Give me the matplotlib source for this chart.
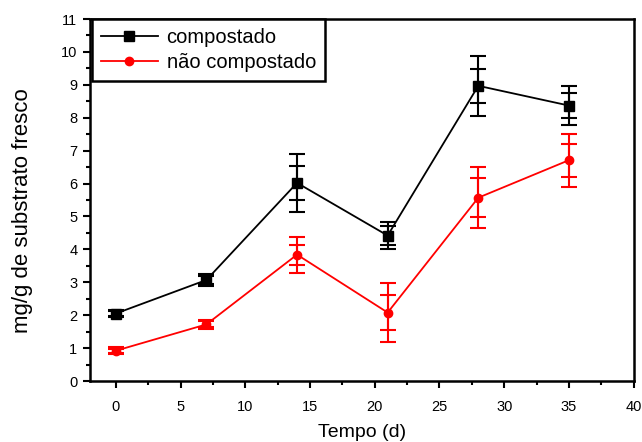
import matplotlib
matplotlib.use("Agg")
import matplotlib.pyplot as plt
from matplotlib.ticker import MultipleLocator

plt.rcParams['font.family'] = ['Liberation Sans', 'DejaVu Sans']

dias = [0, 7, 14, 21, 28, 35]

compostado = [2.05, 3.07, 6.02, 4.42, 8.97, 8.37]
compostado_err = [0.11, 0.18, 0.87, 0.42, 0.91, 0.60]
compostado_err_in = [0.07, 0.11, 0.52, 0.28, 0.52, 0.37]

nao_compostado = [0.92, 1.72, 3.84, 2.08, 5.57, 6.71]
nao_compostado_err = [0.10, 0.14, 0.55, 0.90, 0.93, 0.81]
nao_compostado_err_in = [0.06, 0.09, 0.30, 0.52, 0.60, 0.50]

fig = plt.figure(figsize=(6.42, 4.42), dpi=100)
ax = fig.add_axes([0.140, 0.138, 0.847, 0.819])

series = [
    (compostado, compostado_err, compostado_err_in, 'black', 's', 6.5, "compostado"),
    (nao_compostado, nao_compostado_err, nao_compostado_err_in, 'red', 'o', 6, "não compostado"),
]
for vals, err, err_in, cor, mk, ms, nome in series:
    ax.errorbar(dias, vals, yerr=err, fmt='none', ecolor=cor, elinewidth=1.5,
                capsize=6, capthick=1.5, zorder=2)
    ax.errorbar(dias, vals, yerr=err_in, fmt='none', ecolor=cor, elinewidth=1.5,
                capsize=6, capthick=1.5, zorder=2)
    ax.plot(dias, vals, color=cor, marker=mk, markersize=ms, linewidth=1.3,
            label=nome, zorder=3)

ax.set_xlim(-2, 40)
ax.set_ylim(0, 11)
ax.xaxis.set_major_locator(MultipleLocator(5))
ax.xaxis.set_minor_locator(MultipleLocator(2.5))
ax.yaxis.set_major_locator(MultipleLocator(1))
ax.yaxis.set_minor_locator(MultipleLocator(0.5))

for s in ax.spines.values():
    s.set_linewidth(1.8)
ax.tick_params(which='major', direction='out', length=5, width=1.5, labelsize=10.5)
ax.tick_params(which='minor', direction='out', length=3, width=1.5)
ax.tick_params(axis='x', which='major', pad=9)
ax.tick_params(axis='y', which='major', pad=4)

ax.set_xlabel("Tempo (d)", fontsize=14, labelpad=7)
ax.set_ylabel("mg/g de substrato fresco", fontsize=16)
ax.yaxis.set_label_coords(-0.104, 0.47)

leg = ax.legend(loc='upper left', bbox_to_anchor=(0.004, 1.0), fontsize=14.5,
                frameon=True, fancybox=False, borderpad=0.45, labelspacing=0.3,
                handlelength=2.8, handletextpad=0.45, borderaxespad=0)
leg.get_frame().set_edgecolor('black')
leg.get_frame().set_linewidth(1.8)
leg.get_frame().set_alpha(1)

fig.savefig("out.png", dpi=100)
